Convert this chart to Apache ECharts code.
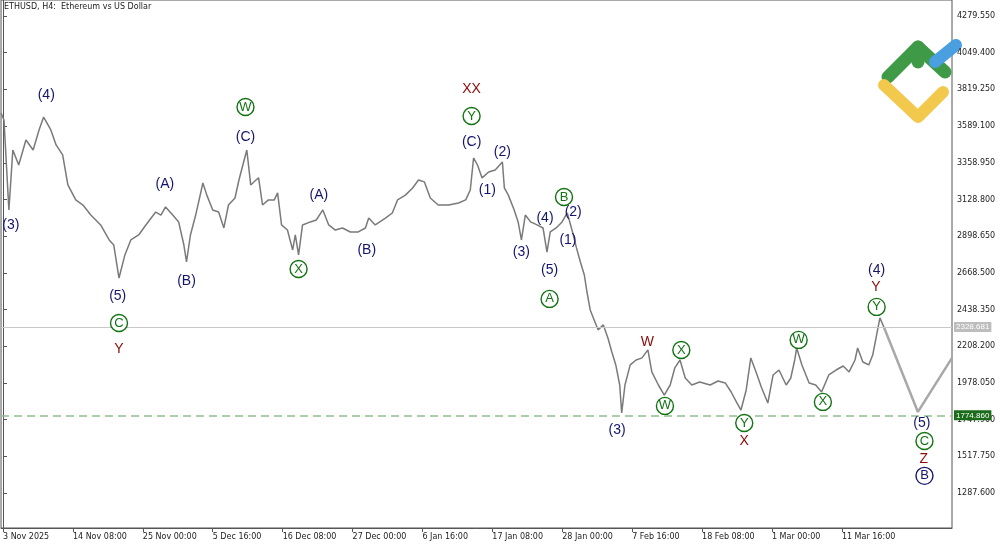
<!DOCTYPE html>
<html><head><meta charset="utf-8">
<script src="https://cdn.jsdelivr.net/npm/echarts@6/dist/echarts.min.js"></script>
<style>html,body{margin:0;padding:0;background:#fff}#c{width:1000px;height:545px}</style>
</head><body><div id="c"></div>
<script>
// days since 3 Nov 2025 00:00
const priceDays = [-0.3,0.15,0.9,1.5,2.4,3.5,4.6,5.5,6.2,7.3,8.1,9.1,9.9,11.1,12.2,13.4,14.9,16.2,16.9,17.7,18.6,19.5,20.7,21.8,23.3,24.1,24.8,25.9,26.8,27.6,28.0,28.6,29.4,30.5,31.1,32.0,32.9,33.7,34.4,35.4,36.0,36.6,37.2,37.8,38.6,39.0,39.6,40.5,41.4,41.9,42.5,43.4,44.2,44.6,45.1,45.7,46.9,47.8,48.8,49.7,50.7,51.8,53.0,54.2,55.3,55.8,56.8,58.4,59.4,60.2,61.4,62.5,63.4,64.3,65.2,66.4,68.0,69.5,70.6,71.3,71.8,72.4,73.1,74.1,75.1,76.2,76.5,77.1,78.0,78.6,79.1,79.7,80.5,81.5,82.4,83.0,83.5,84.4,85.3,86.1,86.9,87.5,88.1,88.7,89.1,89.6,90.2,90.8,91.6,92.3,92.9,93.5,94.1,94.4,94.9,95.7,96.6,97.5,98.4,99.0,100.0,100.9,101.8,102.5,103.3,104.1,105.1,106.3,107.9,109.1,110.2,111.1,111.9,112.6,113.4,114.1,114.9,115.7,116.7,117.5,118.4,119.5,120.2,120.8,121.1,121.9,123.0,124.0,124.9,126.0,127.1,128.2,129.1,130.0,130.4,131.2,132.1,132.7,133.3,133.8,134.4];
const priceValues = [3671,3627,3063,3439,3345,3502,3439,3565,3646,3565,3471,3408,3220,3126,3094,3031,2969,2875,2843,2636,2781,2875,2906,2969,3050,3031,3082,3031,2988,2843,2737,2906,3031,3232,3156,3063,3050,2950,3094,3138,3251,3345,3439,3220,3251,3264,3094,3126,3126,3170,2969,2937,2812,2906,2781,2969,2988,3000,3063,2969,2937,2950,2925,2925,2950,3013,2969,3013,3044,3126,3156,3201,3251,3239,3138,3094,3094,3107,3126,3188,3389,3345,3264,3301,3314,3364,3201,3156,3063,2988,2875,3031,2988,2969,2950,2799,2925,2950,2988,3044,2925,2825,2737,2655,2549,2436,2373,2311,2342,2260,2172,2091,1965,1790,1965,2091,2122,2135,2185,2047,1965,1902,1965,2072,2122,2009,1965,1984,1965,1990,1978,1921,1859,1808,1934,2135,2047,1953,1852,2028,2059,1965,2009,2122,2197,2091,1978,1965,1921,2028,2059,2084,2047,2122,2197,2109,2091,2153,2279,2386,2329];
const projDays = [134.4,139.6,144.8];
const projValues = [2329,1796,2135];
const xTickDays = [0,10.6667,21.3333,32,42.6667,53.3333,64,74.6667,85.3333,96,106.6667,117.3333,128];
const xTickLabels = ['3 Nov 2025','14 Nov 08:00','25 Nov 00:00','5 Dec 16:00','16 Dec 08:00','27 Dec 00:00','6 Jan 16:00','17 Jan 08:00','28 Jan 00:00','7 Feb 16:00','18 Feb 08:00','1 Mar 00:00','11 Mar 16:00'];
const yTicks = [1287.6,1517.75,1747.9,1978.05,2208.2,2438.35,2668.5,2898.65,3128.8,3358.95,3589.1,3819.25,4049.4,4279.55];
const currentPrice = 2328.681;
const supportPrice = 1774.86;
// wave labels: [day, price, text, kind]  kind: n=navy, r=dark red, c=green circle, cb=navy circle
const waveLabels = [
 [6.6,3784,'(4)','n'],[1.2,2969,'(3)','n'],[17.5,2523,'(5)','n'],[17.7,2354,'C','c'],[17.7,2191,'Y','r'],
 [24.7,3226,'(A)','n'],[28.0,2618,'(B)','n'],[37.0,3709,'W','c'],[37.0,3521,'(C)','n'],[48.2,3157,'(A)','n'],
 [45.1,2693,'X','c'],[55.5,2812,'(B)','n'],[71.5,3822,'XX','r'],[71.5,3652,'Y','c'],[71.5,3489,'(C)','n'],
 [76.2,3427,'(2)','n'],[73.9,3188,'(1)','n'],[79.1,2799,'(3)','n'],[82.7,3013,'(4)','n'],[85.6,3144,'B','c'],
 [87.0,3050,'(2)','n'],[86.2,2875,'(1)','n'],[83.4,2687,'(5)','n'],[83.4,2505,'A','c'],[98.3,2235,'W','r'],
 [103.5,2185,'X','c'],[101.0,1834,'W','c'],[93.7,1683,'(3)','n'],[113.1,1727,'Y','c'],[113.1,1614,'X','r'],
 [121.4,2248,'W','c'],[125.1,1859,'X','c'],[133.3,2687,'(4)','n'],[133.2,2580,'Y','r'],[133.3,2455,'Y','c'],
 [140.2,1727,'(5)','n'],[140.6,1614,'C','c'],[140.5,1501,'Z','r'],[140.6,1395,'B','cb']
];

const NAVY='#14146e', RED='#8b0a0a', GREEN='#127312';
const FF='Liberation Sans, Arial, sans-serif';
function lbl(kind){
  if(kind==='n') return {color:NAVY,fontSize:14,symbolSize:0};
  if(kind==='r') return {color:RED,fontSize:14,symbolSize:0};
  if(kind==='c') return {color:GREEN,fontSize:13,symbolSize:17,border:GREEN};
  return {color:NAVY,fontSize:13,symbolSize:17,border:NAVY};
}
const labelData = waveLabels.map(w=>{
  const s=lbl(w[3]);
  return {value:[w[0],w[1]],symbol:'circle',symbolSize:s.symbolSize,
    itemStyle:{opacity:1,color:s.border?'#fff':'transparent',borderColor:s.border||'transparent',borderWidth:s.border?1.4:0},
    label:{show:true,formatter:w[2],position:'inside',color:s.color,opacity:1,fontSize:s.fontSize,fontFamily:FF}};
});

const chart = echarts.init(document.getElementById('c'));
chart.setOption({
  animation:false,
  backgroundColor:'#fff',
  grid:{left:0,right:48,top:0,bottom:17,show:true,borderColor:'#555',borderWidth:1},
  xAxis:{type:'value',min:-0.3,max:144.8,
    axisLine:{show:true,onZero:false,lineStyle:{color:'#555'}},splitLine:{show:false},
    axisTick:{show:true,customValues:xTickDays,length:4,lineStyle:{color:'#555'}},
    axisLabel:{customValues:xTickDays,formatter:v=>{let i=xTickDays.findIndex(d=>Math.abs(d-v)<0.01);return i>=0?xTickLabels[i]:'';},
      align:'left',fontSize:8,color:'#222',fontFamily:'DejaVu Sans',margin:5}},
  yAxis:{type:'value',position:'right',min:1068,max:4380,
    axisLine:{show:true,lineStyle:{color:'#555'}},splitLine:{show:false},
    axisTick:{show:true,customValues:yTicks,length:4,inside:false,lineStyle:{color:'#555'}},
    axisLabel:{customValues:yTicks,formatter:v=>v.toFixed(3),fontSize:8,color:'#222',fontFamily:'DejaVu Sans',margin:5}},
  graphic:[
    {type:'text',left:4,top:3,style:{text:'ETHUSD, H4:  Ethereum vs US Dollar',fontSize:8,fill:'#222',fontFamily:'DejaVu Sans'}},
    {type:'polyline',shape:{points:[[888,77],[918,47],[945,72]]},style:{stroke:'#3f9a47',lineWidth:13,lineCap:'round',lineJoin:'round',fill:null}},
    {type:'polyline',shape:{points:[[918,47],[918,62]]},style:{stroke:'#3f9a47',lineWidth:13,lineCap:'round',fill:null}},
    {type:'polyline',shape:{points:[[884,85],[918,117],[943,92]]},style:{stroke:'#f2c94c',lineWidth:12,lineCap:'round',lineJoin:'round',fill:null}},
    {type:'line',shape:{x1:935,y1:62,x2:956,y2:45},style:{stroke:'#4a9fe0',lineWidth:12,lineCap:'round'}}
  ],
  series:[
    {type:'line',data:priceDays.map((d,i)=>[d,priceValues[i]]),showSymbol:false,symbol:'none',
      lineStyle:{color:'#7a7a7a',width:1.5},z:3,
      markLine:{silent:true,symbol:'none',data:[
        {yAxis:currentPrice,lineStyle:{color:'#c8c8c8',type:'solid',width:1},
          label:{position:'end',formatter:currentPrice.toFixed(3),color:'#fff',backgroundColor:'#bdbdbd',padding:[1,2],fontSize:8,distance:2}},
        {yAxis:supportPrice,lineStyle:{color:'#8fbf8f',type:[8,5],width:1.5},
          label:{position:'end',formatter:supportPrice.toFixed(3),color:'#fff',backgroundColor:'#1a6b1a',padding:[1,2],fontSize:8,distance:2}}
      ]}},
    {type:'line',data:projDays.map((d,i)=>[d,projValues[i]]),showSymbol:false,symbol:'none',
      lineStyle:{color:'#a8a8a8',width:2.5},z:2},
    {type:'scatter',data:labelData,z:5,itemStyle:{opacity:1}}
  ]
});
</script></body></html>
